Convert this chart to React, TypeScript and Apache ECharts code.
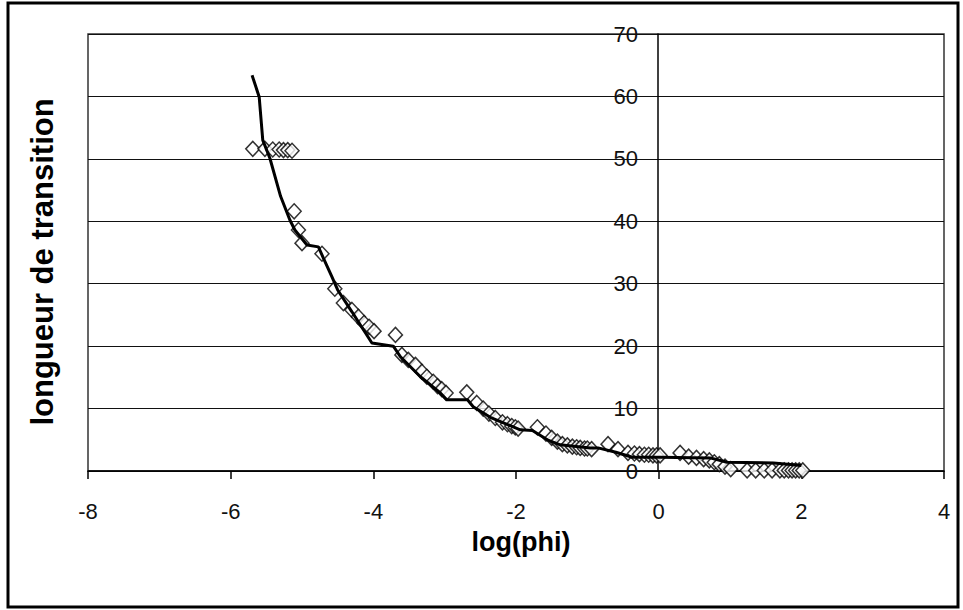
import React, { useEffect, useRef } from "react";
import * as echarts from "echarts";

const xTicks = [-8, -6, -4, -2, 0, 2, 4];
const yTicks = [0, 10, 20, 30, 40, 50, 60, 70];

const pointsX = [
  -5.69, -5.52, -5.41, -5.32, -5.26, -5.2, -5.14,
  -5.11, -5.05, -5.0, -4.72, -4.54, -4.42, -4.3, -4.21, -4.13, -4.06, -3.99,
  -3.69, -3.6, -3.51, -3.41, -3.32, -3.25, -3.16, -3.1, -3.04, -2.98,
  -2.69, -2.55, -2.46, -2.38, -2.29, -2.19, -2.12, -2.06, -2.01, -1.97,
  -1.7, -1.58, -1.5, -1.42, -1.35, -1.28, -1.21, -1.15, -1.1, -1.04, -1.0, -0.94,
  -0.71, -0.57, -0.43, -0.34, -0.27, -0.2, -0.14, -0.08, -0.03, 0.02,
  0.3, 0.42, 0.53, 0.63, 0.71, 0.78, 0.85, 0.93, 1.01,
  1.24, 1.36, 1.48, 1.59, 1.7, 1.76, 1.82, 1.87, 1.92, 1.97, 2.02,
];
const pointsY = [
  51.6, 51.6, 51.5, 51.5, 51.4, 51.4, 51.3,
  41.6, 38.6, 36.5, 34.8, 29.2, 26.9, 25.8, 24.7, 23.7, 23.1, 22.4,
  21.8, 18.6, 17.8, 17.0, 15.9, 15.1, 14.3, 13.6, 13.1, 12.5,
  12.6, 10.9, 10.0, 9.2, 8.5, 7.8, 7.5, 7.2, 7.0, 6.8,
  7.0, 6.0, 5.3, 4.7, 4.3, 4.1, 3.9, 3.8, 3.7, 3.6, 3.6, 3.5,
  4.3, 3.5, 2.9, 2.8, 2.7, 2.6, 2.6, 2.5, 2.5, 2.5,
  2.9, 2.3, 2.1, 1.9, 1.7, 1.4, 1.1, 0.7, 0.3,
  0.1, 0.1, 0.1, 0.1, 0.1, 0.1, 0.1, 0.1, 0.1, 0.1, 0.1,
];

const curveX = [
  -5.7, -5.6, -5.55, -5.45, -5.3, -5.17, -5.1, -4.93, -4.77, -4.7, -4.58, -4.5,
  -4.3, -4.02, -3.72, -3.62, -3.34, -3.06, -2.97, -2.68, -2.6, -2.36, -1.94,
  -1.77, -1.56, -1.38, -0.96, -0.85, -0.6, -0.37, 0.02, 0.72, 0.96, 1.61, 2.0,
];
const curveY = [
  63.4, 59.9, 53.0, 50.1, 44.0, 40.2, 38.6, 36.2, 35.9, 34.1, 31.1, 29.0,
  25.5, 20.5, 20.0, 18.3, 15.1, 12.5, 11.4, 11.4, 10.3, 8.6, 6.6,
  6.5, 5.0, 4.2, 3.7, 3.7, 3.0, 2.2, 2.2, 2.1, 1.4, 1.3, 0.9,
];

const FONT = "'Liberation Sans', Arial, sans-serif";

export default function App() {
  const ref = useRef<HTMLDivElement>(null);
  useEffect(() => {
    if (!ref.current) return;
    const chart = echarts.init(ref.current, undefined, { renderer: "svg" });
    chart.setOption({
      animation: false,
      backgroundColor: "#fff",
      grid: {
        left: 88,
        right: 19,
        top: 34,
        bottom: 139,
        show: true,
        borderColor: "#333",
        borderWidth: 1.5,
        backgroundColor: "#fff",
      },
      xAxis: {
        type: "value",
        min: xTicks[0],
        max: xTicks[xTicks.length - 1],
        interval: 2,
        axisLine: { show: true, onZero: false, lineStyle: { color: "#000", width: 1.5 } },
        axisTick: { show: true, inside: false, length: 8, lineStyle: { color: "#000", width: 1.5 } },
        axisLabel: { fontSize: 22, color: "#111", fontFamily: FONT, margin: 29 },
        splitLine: { show: false },
      },
      yAxis: {
        type: "value",
        min: yTicks[0],
        max: yTicks[yTicks.length - 1],
        interval: 10,
        position: "left",
        offset: -570,
        axisLine: { show: true, onZero: false, lineStyle: { color: "#000", width: 1.5 } },
        axisTick: { show: false },
        axisLabel: { fontSize: 22, color: "#111", fontFamily: FONT, margin: 20 },
        splitLine: { show: true, lineStyle: { color: "#111", width: 1.2 } },
      },
      graphic: [
        {
          type: "rect",
          shape: { x: 8, y: 3, width: 950, height: 604 },
          style: { fill: "none", stroke: "#000", lineWidth: 3 },
          silent: true,
        },
        {
          type: "text",
          x: 42,
          y: 262,
          rotation: Math.PI / 2,
          style: {
            text: "longueur de transition",
            font: `bold 31px ${FONT}`,
            fill: "#000",
            textAlign: "center",
            textVerticalAlign: "middle",
          },
        },
        {
          type: "text",
          x: 521,
          y: 542,
          style: {
            text: "log(phi)",
            font: `bold 27px ${FONT}`,
            fill: "#000",
            textAlign: "center",
            textVerticalAlign: "middle",
          },
        },
      ],
      series: [
        {
          type: "scatter",
          data: pointsX.map((x, i) => [x, pointsY[i]]),
          symbol: "diamond",
          symbolSize: [14, 15],
          clip: false,
          itemStyle: { color: "#fff", borderColor: "#000", borderWidth: 1.5 },
          z: 2,
        },
        {
          type: "line",
          data: curveX.map((x, i) => [x, curveY[i]]),
          showSymbol: false,
          symbol: "none",
          lineStyle: { color: "#000", width: 3 },
          z: 3,
        },
      ],
    });
    return () => chart.dispose();
  }, []);
  return (
    <div
      ref={ref}
      style={{ position: "absolute", left: 0, top: 0, width: 963, height: 610 }}
    />
  );
}
